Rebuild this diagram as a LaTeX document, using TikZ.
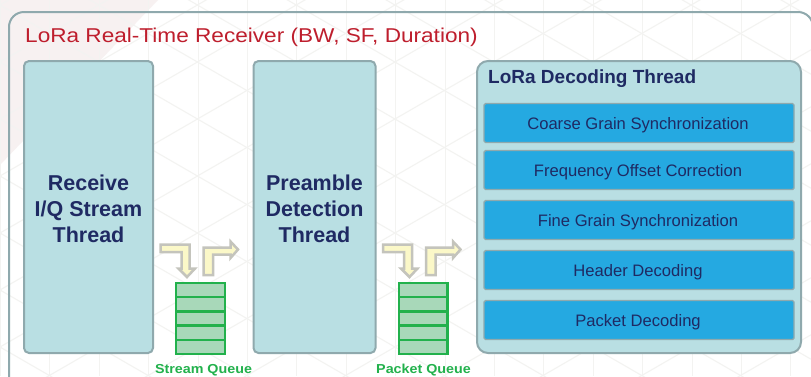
\documentclass[tikz,border=0pt]{standalone}
\usepackage{fontspec}
\setmainfont{Liberation Sans}
\definecolor{framec}{HTML}{8FA9AD}
\definecolor{threadc}{HTML}{B9DFE3}
\definecolor{threadb}{HTML}{8FA9AD}
\definecolor{stepc}{HTML}{25A9E1}
\definecolor{navyc}{HTML}{1F2A63}
\definecolor{redc}{HTML}{BE1E2D}
\definecolor{greenb}{HTML}{22B14C}
\definecolor{greenf}{HTML}{A8D8B9}
\definecolor{arrowf}{HTML}{FBF8C8}
\definecolor{arrowb}{HTML}{C4C4BC}
\definecolor{gridc}{HTML}{F3F3F1}
\definecolor{pinkc}{HTML}{F7F1F1}
\tikzset{
 x=1pt,y=-1pt,
 threadbox/.style={draw=threadb,fill=threadc,line width=2pt,rounded corners=5pt,outer sep=0pt,inner sep=0pt,anchor=north west},
 threadlabel/.style={font=\fontsize{21.5}{26}\selectfont\bfseries,text=navyc,align=center,anchor=center},
 stepbox/.style={draw=threadb,fill=stepc,line width=1.4pt,rounded corners=1.5pt,outer sep=0pt,inner sep=0pt,anchor=north west},
 steplabel/.style={font=\fontsize{16.6}{18}\selectfont,text=navyc,anchor=base,inner sep=0pt},
 bentarrow/.style={draw=arrowb,fill=arrowf,line width=2.5pt,line join=miter},
 qcell/.style={draw=greenb,fill=greenf,line width=2.4pt},
 qlabel/.style={font=\fontsize{13}{14}\selectfont\bfseries,text=greenb,anchor=base,inner sep=0pt},
 gridline/.style={draw=gridc,line width=1.1pt}
}
\begin{document}
\begin{tikzpicture}
\useasboundingbox (0,0) rectangle (811,376);
\begin{scope}
\clip (0,0) rectangle (811,376);
\fill[white] (0,0) rectangle (811,376);
\fill[pinkc] (0,0) -- (158,0) -- (0,165) -- cycle;
\foreach \k in {0,...,16} {\draw[gridline] ({0.5+49.4*\k},0) -- ({0.5+49.4*\k},376);}
\foreach \j in {-16,...,24} {
  \draw[gridline] (0,{5+57*\j}) -- (811,{5+57*\j+468.2});
  \draw[gridline] (0,{5+57*\j}) -- (811,{5+57*\j-468.2});
}
\draw[draw=framec,line width=2pt,rounded corners=15pt] (9,12) rectangle (813,390);
\end{scope}
\node[font=\fontsize{20}{24}\selectfont,text=redc,anchor=west,inner sep=0pt] (title) at (25,37.5) {\scalebox{1.13}[1]{LoRa Real-Time Receiver (BW, SF, Duration)}};
\node[threadbox,minimum width=129pt,minimum height=292pt] (recv) at (24,61) {};
\node[threadlabel] (recvl) at (88.5,208.5) {Receive\\I/Q Stream\\Thread};
\node[threadbox,minimum width=122pt,minimum height=292pt] (pre) at (253.5,61) {};
\node[threadlabel] (prel) at (314.5,208.5) {Preamble\\Detection\\Thread};
\node[threadbox,rounded corners=11pt,minimum width=324pt,minimum height=292pt] (dec) at (477,61) {};
\node[font=\fontsize{19}{21}\selectfont\bfseries,text=navyc,anchor=base west,inner sep=0pt] (dect) at (488,83) {LoRa Decoding Thread};
\foreach \n/\t/\lab in {a/103.5/Coarse Grain Synchronization,
  b/150.5/Frequency Offset Correction,
  c/200.5/Fine Grain Synchronization,
  d/250.5/Header Decoding,
  e/300.5/Packet Decoding}{
  \node[stepbox,minimum width=310pt,minimum height=39pt] (\n) at (484,\t) {};
  \node[steplabel] (\n l) at (638,{\t+25.5}) {\lab};
}
\foreach \dx/\nm/\qn/\qx in {0/s/Stream Queue/203.5,222.5/p/Packet Queue/201}{
 \begin{scope}[shift={(\dx,0)}]
  \draw[bentarrow] (160.5,244.5) -- (189.5,244.5) -- (189.5,268.5) -- (195,268.5) -- (187,277) -- (178.5,268.5) -- (181.5,268.5) -- (181.5,252) -- (160.5,252) -- cycle;
  \draw[bentarrow] (203.5,275) -- (203.5,247.5) -- (230.5,247.5) -- (230.5,241.5) -- (238,249.5) -- (230.5,258) -- (230.5,254.5) -- (213,254.5) -- (213,275) -- cycle;
  \foreach \i in {0,1,2,3,4}{
    \draw[qcell] (176.2,{283+\i*14.2}) rectangle (224.8,{283+(\i+1)*14.2});
  }
  \node[qlabel] (\nm q) at (\qx,373.5) {\scalebox{1.1}[1]{\qn}};
 \end{scope}
}
\end{tikzpicture}
\end{document}
